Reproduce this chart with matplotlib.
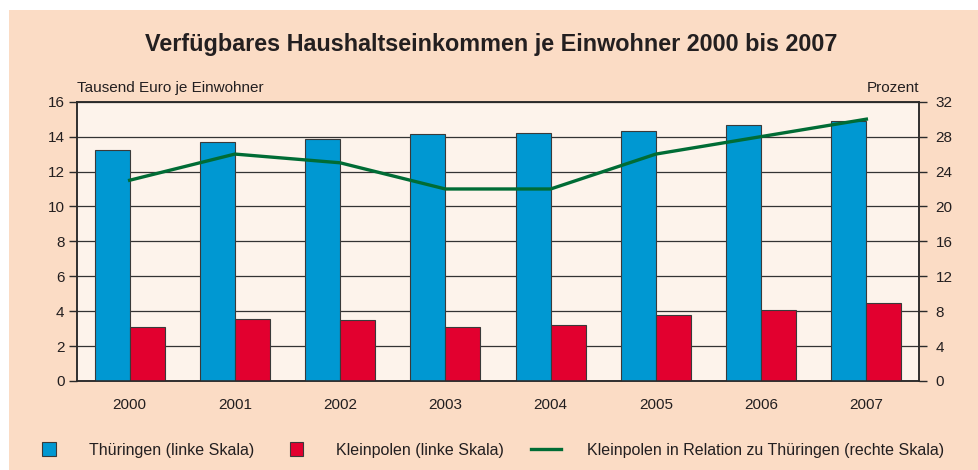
import matplotlib
matplotlib.use("Agg")
import matplotlib.pyplot as plt
import numpy as np
from matplotlib.patches import Rectangle
from matplotlib.legend_handler import HandlerPatch

plt.rcParams['font.family'] = ['Liberation Sans', 'DejaVu Sans']

years = ['2000', '2001', '2002', '2003', '2004', '2005', '2006', '2007']
thueringen = [13.25, 13.72, 13.86, 14.13, 14.22, 14.34, 14.66, 14.87]
kleinpolen = [3.11, 3.57, 3.51, 3.11, 3.19, 3.76, 4.07, 4.45]
relation = [23, 26, 25, 22, 22, 26, 28, 30]

title = 'Verfügbares Haushaltseinkommen je Einwohner 2000 bis 2007'
left_label = 'Tausend Euro je Einwohner'
right_label = 'Prozent'
legend_labels = ['Thüringen (linke Skala)', 'Kleinpolen (linke Skala)',
                 'Kleinpolen in Relation zu Thüringen (rechte Skala)']

C_BG = '#FBDCC5'
C_PLOT = '#FDF3EB'
C_BLUE = '#0098D2'
C_RED = '#E2002F'
C_GREEN = '#006C35'
C_TEXT = '#231F20'
C_EDGE = '#2a2a2a'

W, H = 979, 470
fig = plt.figure(figsize=(W / 100, H / 100), dpi=100)
fig.patch.set_facecolor('white')
fig.patches.append(Rectangle((9 / W, 0), 1 - 9 / W, (H - 10) / H,
                             transform=fig.transFigure, facecolor=C_BG,
                             edgecolor='none', zorder=-10))

ax = fig.add_axes([77 / W, (H - 381) / H, (919 - 77) / W, (381 - 101.7) / H])
ax.set_facecolor(C_PLOT)
x = np.arange(len(years))
bw = 0.333
b1 = ax.bar(x - bw / 2, thueringen, bw, color=C_BLUE, edgecolor='#3a3a3a', linewidth=0.8, zorder=3)
b2 = ax.bar(x + bw / 2, kleinpolen, bw, color=C_RED, edgecolor='#3a3a3a', linewidth=0.8, zorder=3)
ax.set_xlim(-0.5, len(years) - 0.5)
ax.set_ylim(0, 16)
ax.set_yticks(np.arange(0, 17, 2))
ax.set_xticks(x)
ax.set_xticklabels(years)
ax.yaxis.grid(True, color='#333333', linewidth=0.9, zorder=1)
ax.set_axisbelow(True)
ax.tick_params(axis='x', length=0, pad=12.5, labelsize=11, labelcolor=C_TEXT)
ax.tick_params(axis='y', length=6, width=1, pad=3, labelsize=11, labelcolor=C_TEXT, color=C_EDGE)
for s in ax.spines.values():
    s.set_color(C_EDGE)
    s.set_linewidth(1.1)

ax2 = ax.twinx()
ax2.set_ylim(0, 32)
ax2.set_yticks(np.arange(0, 33, 4))
l1, = ax2.plot(x, relation, color=C_GREEN, linewidth=2.4, zorder=5)
ax2.tick_params(axis='y', length=6, width=1, pad=6, labelsize=11, labelcolor=C_TEXT, color=C_EDGE)
for s in ax2.spines.values():
    s.set_color(C_EDGE)
    s.set_linewidth(1.1)

fig.text(77 / W, (H - 88) / H, left_label, ha='left', va='center', fontsize=11, color=C_TEXT)
fig.text(919.5 / W, (H - 88) / H, right_label, ha='right', va='center', fontsize=11, color=C_TEXT)
fig.text(491 / W, (H - 44) / H, title, ha='center', va='center', fontsize=16.8,
         fontweight='bold', color=C_TEXT)


def square(legend, orig_handle, xdescent, ydescent, width, height, fontsize):
    s = 13.5 * 72 / 100
    return Rectangle((-xdescent + 6.5, -ydescent + (height - s) / 2), s, s)


fig.legend([b1.patches[0], b2.patches[0], l1], legend_labels, ncol=3, frameon=False,
           loc='center left', bbox_to_anchor=(33 / W, (H - 450) / H),
           fontsize=11.5, labelcolor=C_TEXT, handlelength=1.9, handletextpad=1.6,
           columnspacing=1.65, borderpad=0, borderaxespad=0,
           handler_map={Rectangle: HandlerPatch(patch_func=square)})

fig.savefig('out.png', dpi=100, facecolor=fig.get_facecolor())
